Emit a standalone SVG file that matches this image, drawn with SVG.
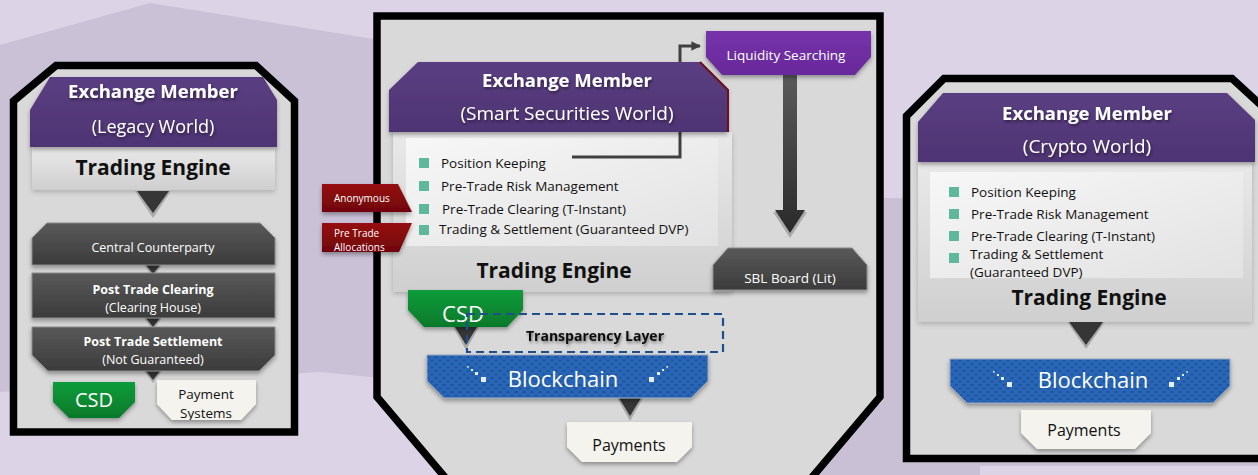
<svg xmlns="http://www.w3.org/2000/svg" width="1258" height="475" viewBox="0 0 1258 475">
<defs>
<style>
.ff{font-family:"Open Sans","Noto Sans","DejaVu Sans",sans-serif}
.w{fill:#fff}.k{fill:#111}.b{font-weight:700}.m{text-anchor:middle}
.panel{fill:#d9d9d9;stroke:#000;stroke-width:7.5;stroke-linejoin:miter}
.hdr{fill:url(#gPurple);filter:url(#sh)}
.te{fill:url(#gTE);filter:url(#sh2)}
.inner{fill:url(#gWhite)}
.dark{fill:url(#gDark);stroke:#8a8a8a;stroke-width:1;filter:url(#sh)}
.green{fill:url(#gGreen);filter:url(#sh)}
.cream{fill:#f4f3ee;filter:url(#sh)}
.bc{fill:url(#hex);stroke:#9aa9c0;stroke-width:1;filter:url(#sh)}
.tag{fill:url(#gRed);filter:url(#sh)}
.bul{fill:#5fb89c}
.tro{fill:#a9a9a9}.trd{fill:#363636}
.sp{fill:#e6eef8}
</style>
<linearGradient id="gPurple" x1="0" y1="0" x2="0" y2="1"><stop offset="0" stop-color="#5a3e82"/><stop offset="1" stop-color="#4e3473"/></linearGradient>
<linearGradient id="gLiq" x1="0" y1="0" x2="0" y2="1"><stop offset="0" stop-color="#7633aa"/><stop offset="1" stop-color="#68299a"/></linearGradient>
<linearGradient id="gDark" x1="0" y1="0" x2="0" y2="1"><stop offset="0" stop-color="#595959"/><stop offset="1" stop-color="#3b3b3b"/></linearGradient>
<linearGradient id="gTE" x1="0" y1="0" x2="0" y2="1"><stop offset="0" stop-color="#e9e9e9"/><stop offset="1" stop-color="#cfcfcf"/></linearGradient>
<linearGradient id="gWhite" x1="0" y1="0" x2="1" y2="1"><stop offset="0" stop-color="#f7f7f7"/><stop offset="1" stop-color="#e2e2e2"/></linearGradient>
<linearGradient id="gGreen" x1="0" y1="0" x2="0" y2="1"><stop offset="0" stop-color="#0f9c3b"/><stop offset="1" stop-color="#06792a"/></linearGradient>
<linearGradient id="gRed" x1="0" y1="0" x2="0" y2="1"><stop offset="0" stop-color="#960d12"/><stop offset="1" stop-color="#700508"/></linearGradient>
<linearGradient id="gArrow" x1="0" y1="0" x2="0" y2="1"><stop offset="0" stop-color="#5a5a5a"/><stop offset="1" stop-color="#2a2a2a"/></linearGradient>
<pattern id="hex" width="8" height="7" patternUnits="userSpaceOnUse">
<rect width="8" height="7" fill="#1a4f9c"/>
<circle cx="0" cy="0" r="2.7" fill="#2a66b6"/><circle cx="8" cy="0" r="2.7" fill="#2a66b6"/>
<circle cx="0" cy="7" r="2.7" fill="#2a66b6"/><circle cx="8" cy="7" r="2.7" fill="#2a66b6"/>
<circle cx="4" cy="3.5" r="2.7" fill="#2a66b6"/>
</pattern>
<filter id="sh" x="-10%" y="-20%" width="120%" height="150%"><feDropShadow dx="0" dy="2.5" stdDeviation="2" flood-color="#000" flood-opacity="0.35"/></filter>
<filter id="sh2" x="-10%" y="-10%" width="120%" height="130%"><feDropShadow dx="0" dy="2" stdDeviation="2.5" flood-color="#000" flood-opacity="0.2"/></filter>
<filter id="tsh" x="-10%" y="-30%" width="120%" height="160%"><feDropShadow dx="1" dy="2" stdDeviation="1.5" flood-color="#000" flood-opacity="0.45"/></filter>
<marker id="ah" viewBox="0 0 10 10" refX="9" refY="5" markerWidth="3.2" markerHeight="3.2" orient="auto" markerUnits="strokeWidth"><path d="M0,0 L10,5 L0,10 Z" fill="#404040"/></marker>
<clipPath id="cpPay"><path d="M157,380 L256,380 L256,404 L241,420 L172,420 L157,404 Z"/></clipPath>
<clipPath id="cpAlloc"><path d="M322,223 L412,223 L399,252 L322,252 Z"/></clipPath>
<g id="spL"><rect x="467" y="366" width="1.6" height="1.6"/><rect x="471" y="369" width="2" height="2"/><rect x="475" y="372" width="3" height="3"/><rect x="481" y="377" width="5" height="5"/></g>
</defs>

<!-- background -->
<rect width="1258" height="475" fill="#dcd4e6"/>
<polygon points="0,45 150,3 380,40 380,378 320,372 0,392" fill="#cac1d7"/>
<polygon points="884,198 1258,198 1258,466 980,466 980,475 805,475 884,400" fill="#c9c0d6"/>

<!-- panels -->
<g id="panel-legacy"><path class="panel" d="M13.5,101 L56,65.5 L256,65.5 L294.5,101 L294.5,432 L13.5,432 Z"/></g>
<g id="panel-smart"><path class="panel" d="M377,16 L880,16 L880,397 L808,482 L449,482 L377,397 Z"/></g>
<g id="panel-crypto"><path class="panel" d="M906.5,116 L944,78.5 L1232,78.5 L1275,118 L1275,458.5 L906.5,458.5 Z"/></g>

<!-- trading engine nodes -->
<g id="te-legacy">
<rect class="te" x="32" y="147" width="243" height="43"/>
<text class="ff k b m" x="153" y="175" font-size="21">Trading Engine</text>
</g>
<g id="te-smart">
<rect class="te" x="393" y="132" width="339" height="160"/>
<rect class="inner" x="406" y="138" width="312" height="108"/>
<rect class="bul" x="419" y="158" width="10" height="10"/>
<rect class="bul" x="419" y="181" width="10" height="10"/>
<rect class="bul" x="419" y="204" width="10" height="10"/>
<rect class="bul" x="419" y="225" width="10" height="10"/>
<text class="ff k" font-size="13.5" x="441" y="168">Position Keeping</text>
<text class="ff k" font-size="13.5" x="441" y="191">Pre-Trade Risk Management</text>
<text class="ff k" font-size="13.5" x="442" y="214">Pre-Trade Clearing (T-Instant)</text>
<text class="ff k" font-size="13.5" x="439" y="234">Trading &amp; Settlement (Guaranteed DVP)</text>
<text class="ff k b m" x="554" y="278" font-size="21">Trading Engine</text>
</g>
<g id="te-crypto">
<rect class="te" x="918" y="162" width="334" height="160"/>
<rect class="inner" x="930" y="172" width="313" height="106"/>
<rect class="bul" x="949" y="187" width="10" height="10"/>
<rect class="bul" x="949" y="209" width="10" height="10"/>
<rect class="bul" x="949" y="231" width="10" height="10"/>
<rect class="bul" x="949" y="253" width="10" height="10"/>
<text class="ff k" font-size="13.5" x="971" y="197">Position Keeping</text>
<text class="ff k" font-size="13.5" x="971" y="219">Pre-Trade Risk Management</text>
<text class="ff k" font-size="13.5" x="971" y="241">Pre-Trade Clearing (T-Instant)</text>
<text class="ff k" font-size="13.5" x="970" y="259">Trading &amp; Settlement</text>
<text class="ff k" font-size="13.5" x="970" y="277">(Guaranteed DVP)</text>
<text class="ff k b m" x="1089" y="305" font-size="21">Trading Engine</text>
</g>

<!-- connectors -->
<g id="connectors">
<polygon class="tro" points="135,191 171,191 153,218"/><polygon class="trd" points="137,191 169,191 153,213"/>
<polygon class="tro" points="144,265 162,265 153,277"/><polygon class="trd" points="146,265 160,265 153,274"/>
<polygon class="tro" points="144,318 162,318 153,330"/><polygon class="trd" points="146,318 160,318 153,327"/>
<polygon class="tro" points="144,371 162,371 153,383"/><polygon class="trd" points="146,371 160,371 153,380"/>
<polygon class="tro" points="453,327 479,327 466,350"/><polygon class="trd" points="455,327 477,327 466,345"/>
<polygon class="tro" points="617,398 643,398 630,421"/><polygon class="trd" points="619,398 641,398 630,416"/>
<polygon class="tro" points="1067,322 1105,322 1086,349"/><polygon class="trd" points="1069,322 1103,322 1086,345"/>
<polyline points="572,157 680,157 680,46 700,46" fill="none" stroke="#404040" stroke-width="3" marker-end="url(#ah)"/>
<polygon class="tro" points="773,212 807,212 790,238"/>
<polygon points="783,75 797,75 797,210 805,210 790,233 775,210 783,210" fill="url(#gArrow)"/>
</g>

<!-- legacy nodes -->
<g id="em-legacy">
<path class="hdr" d="M30,110 L50,77 L263,77 L277,100 L277,147 L30,147 Z"/>
<text class="ff w b m" x="153" y="98" font-size="18.5" filter="url(#tsh)">Exchange Member</text>
<text class="ff w m" x="153" y="133" font-size="18" filter="url(#tsh)">(Legacy World)</text>
</g>
<g id="ccp">
<path class="dark" d="M32,238 L47,223 L260,223 L275,238 L275,265 L32,265 Z"/>
<text class="ff w m" x="153" y="252" font-size="12.5">Central Counterparty</text>
</g>
<g id="ptc">
<rect class="dark" x="32" y="273" width="243" height="45"/>
<text class="ff w b m" x="153" y="294" font-size="12.5">Post Trade Clearing</text>
<text class="ff w m" x="153" y="312" font-size="12.5">(Clearing House)</text>
</g>
<g id="pts">
<path class="dark" d="M32,327 L275,327 L275,355 L259,371 L48,371 L32,355 Z"/>
<text class="ff w b m" x="153" y="346" font-size="12.5">Post Trade Settlement</text>
<text class="ff w m" x="153" y="364" font-size="12.5">(Not Guaranteed)</text>
</g>
<g id="csd-legacy">
<path class="green" d="M53,382 L135,382 L135,402 L119,418 L69,418 L53,402 Z"/>
<text class="ff w m" x="94" y="407" font-size="20">CSD</text>
</g>
<g id="pay-legacy">
<path class="cream" d="M157,380 L256,380 L256,404 L241,420 L172,420 L157,404 Z"/>
<g clip-path="url(#cpPay)">
<text class="ff k m" x="206" y="399" font-size="13.5">Payment</text>
<text class="ff k m" x="206" y="418" font-size="13.5">Systems</text>
</g>
</g>

<!-- smart securities nodes -->
<g id="liquidity">
<path d="M706,31 L871,31 L871,57 L855,75 L722,75 L706,57 Z" fill="url(#gLiq)" filter="url(#sh)"/>
<text class="ff w m" x="786" y="60" font-size="13.5">Liquidity Searching</text>
</g>
<g id="em-smart">
<path class="hdr" d="M389,90 L418,62 L700,62 L728,90 L728,132 L389,132 Z"/>
<path d="M700,62 L728,90 L728,132" fill="none" stroke="#6e0f1c" stroke-width="2"/>
<text class="ff w b m" x="567" y="87" font-size="18.5" filter="url(#tsh)">Exchange Member</text>
<text class="ff w m" x="567" y="120" font-size="19" filter="url(#tsh)">(Smart Securities World)</text>
</g>
<g id="sbl">
<path class="dark" d="M713,265 L728,248 L852,248 L867,265 L867,290 L713,290 Z"/>
<text class="ff w m" x="790" y="283" font-size="13.5">SBL Board (Lit)</text>
</g>
<g id="tag-anonymous">
<path class="tag" d="M322,184 L398,184 L412,212 L322,212 Z"/>
<text class="ff w" x="334" y="202" font-size="10">Anonymous</text>
</g>
<g id="tag-allocations">
<path class="tag" d="M322,223 L412,223 L399,252 L322,252 Z"/>
<g clip-path="url(#cpAlloc)">
<text class="ff w" x="334" y="237" font-size="10">Pre Trade</text>
<text class="ff w" x="334" y="251" font-size="10">Allocations</text>
</g>
</g>
<g id="csd-smart">
<path class="green" d="M408,290 L523,290 L523,310 L507,327 L424,327 L408,310 Z"/>
<text class="ff w m" x="463" y="322" font-size="22">CSD</text>
</g>
<g id="blockchain-smart">
<path class="bc" d="M427,355 L708,355 L708,381 L691,398 L444,398 L427,381 Z"/>
<use href="#spL" class="sp"/>
<use href="#spL" class="sp" transform="translate(1135,0) scale(-1,1)"/>
<text class="ff w m" x="563" y="387" font-size="22">Blockchain</text>
</g>
<g id="transparency">
<rect x="467" y="314" width="256" height="38" fill="none" stroke="#1f4e8c" stroke-width="2.2" stroke-dasharray="8 5"/>
<text class="ff k b m" x="595" y="341" font-size="14" filter="url(#tsh)">Transparency Layer</text>
</g>
<g id="pay-smart">
<path class="cream" d="M567,422 L692,422 L692,447 L677,462 L582,462 L567,447 Z"/>
<text class="ff k m" x="629" y="451" font-size="16">Payments</text>
</g>

<!-- crypto nodes -->
<g id="em-crypto">
<path class="hdr" d="M918,122 L943,93 L1227,93 L1255,120 L1255,162 L918,162 Z"/>
<text class="ff w b m" x="1087" y="120" font-size="18.5" filter="url(#tsh)">Exchange Member</text>
<text class="ff w m" x="1087" y="153" font-size="19" filter="url(#tsh)">(Crypto World)</text>
</g>
<g id="blockchain-crypto">
<path class="bc" d="M950,359 L1230,359 L1230,386 L1213,403 L967,403 L950,386 Z"/>
<use href="#spL" class="sp" transform="translate(526,5)"/>
<use href="#spL" class="sp" transform="translate(1655,5) scale(-1,1)"/>
<text class="ff w m" x="1093" y="388" font-size="22">Blockchain</text>
</g>
<g id="pay-crypto">
<path class="cream" d="M1021,410 L1151,410 L1151,433 L1135,449 L1037,449 L1021,433 Z"/>
<text class="ff k m" x="1084" y="436" font-size="16">Payments</text>
</g>
</svg>
